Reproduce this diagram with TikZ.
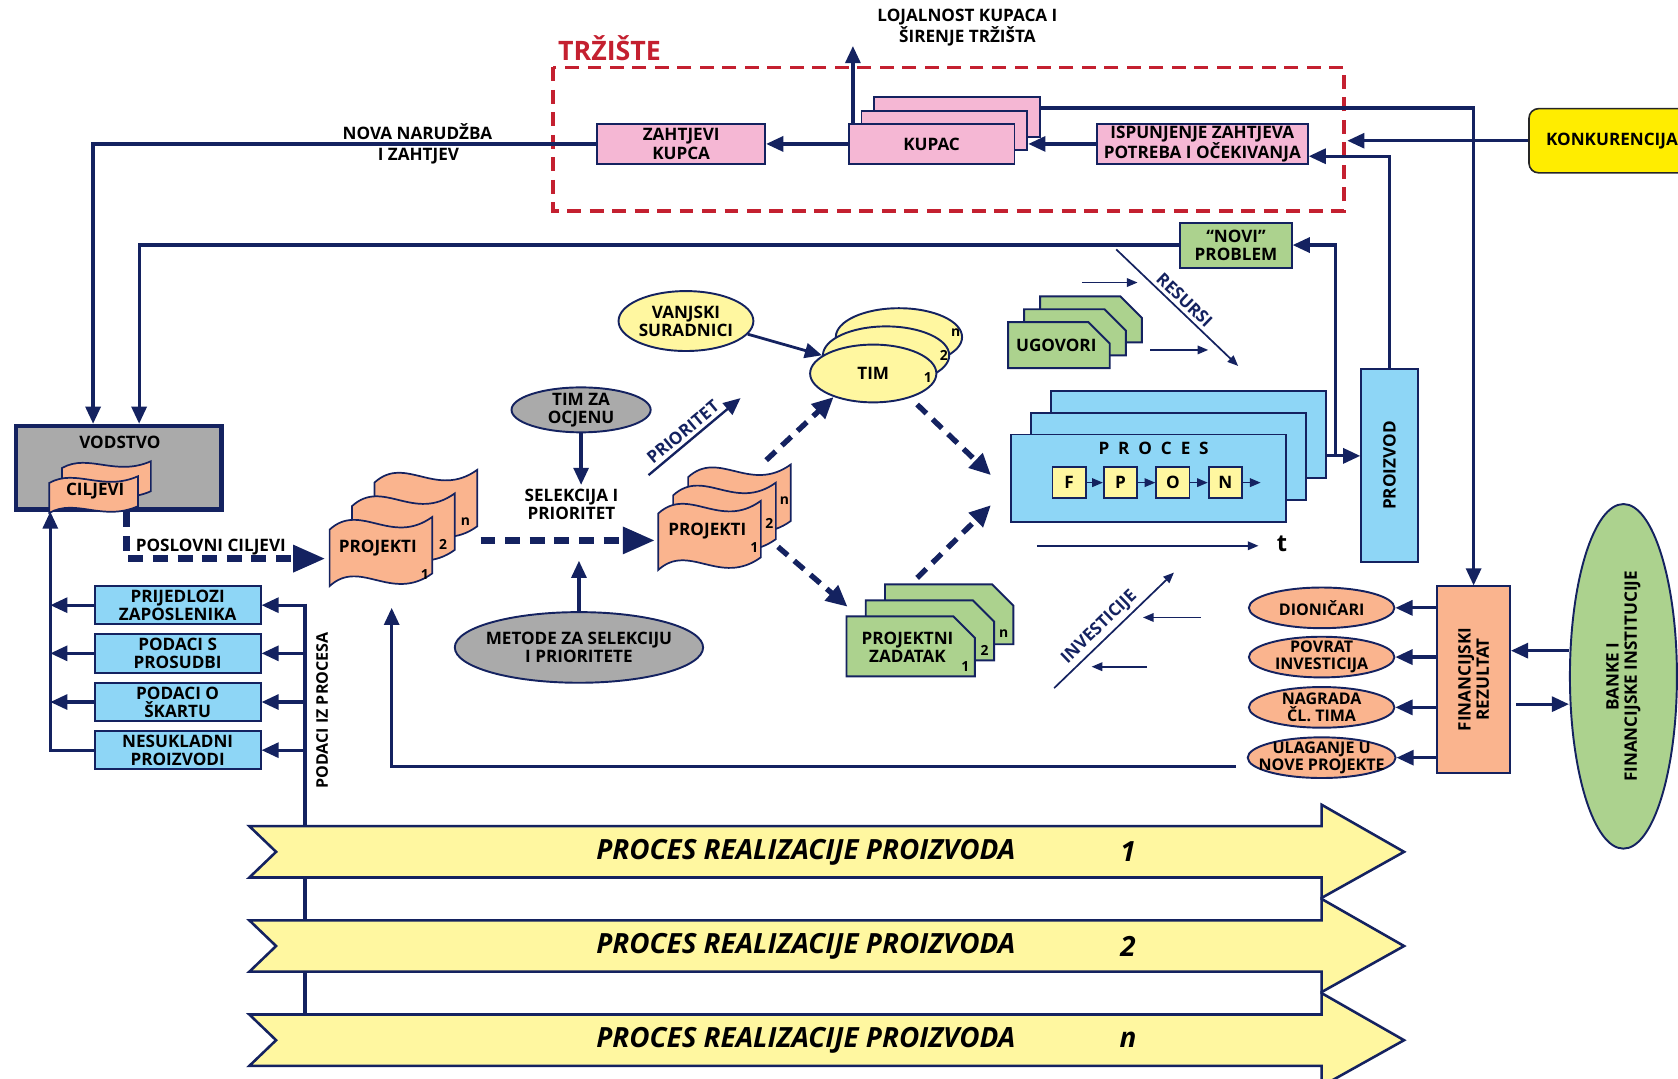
\documentclass[tikz,border=0pt]{standalone}
\usepackage{fontspec}
\setmainfont{Open Sans}
\usetikzlibrary{arrows.meta,shapes.geometric,positioning}

\definecolor{navy}{RGB}{20,34,96}
\definecolor{rose}{RGB}{245,183,212}
\definecolor{sky}{RGB}{142,214,246}
\definecolor{leaf}{RGB}{172,210,142}
\definecolor{lemon}{RGB}{255,247,160}
\definecolor{gold}{RGB}{255,237,0}
\definecolor{peach}{RGB}{250,180,142}
\definecolor{stone}{RGB}{170,170,170}
\definecolor{brick}{RGB}{196,32,48}

\newcommand{\wavesheet}[4]{%
  \filldraw[sheet] ({#1},{#2+0.18*#4})
    .. controls ({#1+0.3*#3},{#2-0.22*#4}) and ({#1+0.6*#3},{#2+0.42*#4}) .. ({#1+#3},{#2})
    -- ({#1+#3},{#2+0.8*#4})
    .. controls ({#1+0.6*#3},{#2+1.22*#4}) and ({#1+0.3*#3},{#2+0.58*#4}) .. ({#1},{#2+0.98*#4}) -- cycle;}
\newcommand{\cutsheet}[4]{%
  \filldraw[leafsheet] ({#1},{#2}) -- ({#1+#3-20},{#2}) -- ({#1+#3},{#2+20})
    -- ({#1+#3},{#2+#4}) -- ({#1},{#2+#4}) -- cycle;}

\begin{document}
\begin{tikzpicture}[x=1pt, y=-1pt,
  every node/.style={font=\bfseries\fontsize{16}{17}\selectfont},
  smalltxt/.style={font=\bfseries\fontsize{15}{15.5}\selectfont},
  num/.style={font=\bfseries\fontsize{13}{13}\selectfont, inner sep=0pt},
  box/.style={draw=navy, line width=1.8pt, align=center, inner sep=1pt},
  rosebox/.style={box, fill=rose, minimum width=155pt, minimum height=37pt},
  skybox/.style={box, fill=sky},
  oval/.style={ellipse, draw=navy, line width=1.8pt, align=center, inner sep=-10pt},
  sheet/.style={fill=peach, draw=navy, line width=1.6pt},
  leafsheet/.style={fill=leaf, draw=navy, line width=1.8pt},
  conn/.style={navy, line width=3pt},
  arr/.style={conn, -{Triangle[length=16pt,width=14pt]}},
  slim/.style={navy, line width=1.6pt, -{Triangle[length=10pt,width=8pt]}},
  bigdash/.style={navy, line width=6.5pt, dash pattern=on 14pt off 9pt, -{Triangle[length=30pt,width=24pt]}},
  middash/.style={navy, line width=5pt, dash pattern=on 12pt off 8pt, -{Triangle[length=20pt,width=18pt]}},
  bigarrow/.style={fill=lemon, draw=navy, line width=2.4pt},
  realtxt/.style={font=\bfseries\itshape\fontsize{26}{28}\selectfont}]
\useasboundingbox (0,0) rectangle (1568,1008);

% market
\draw[brick, line width=3.5pt, dash pattern=on 13pt off 8pt] (517,63) rectangle (1256,197);
\node[anchor=base west, text=brick, font=\bfseries\fontsize{25}{26}\selectfont] (trziste) at (518,57) {TRŽIŠTE};
\node[align=center] (lojalnost) at (904,26) {LOJALNOST KUPACA I\\ŠIRENJE TRŽIŠTA};
\node[rosebox, minimum width=157pt] (zahtjevi) at (636.5,134.5) {ZAHTJEVI\\KUPCA};
\foreach \k in {2,1}
  \node[rosebox] (kupac\k) at ({870.5+12*\k},{134.5-12.5*\k}) {};
\node[rosebox] (kupac) at (870.5,134.5) {KUPAC};
\node[rosebox, minimum width=197pt] (ispun) at (1123.5,134.5) {ISPUNJENJE ZAHTJEVA\\POTREBA I OČEKIVANJA};
\node[draw=black!85, fill=gold, rounded corners=9pt, line width=1.5pt, anchor=west,
  minimum height=60pt, inner xsep=16pt] (konk) at (1428,131.5) {KONKURENCIJA};
\coordinate (lojalIn) at (797,43);
\coordinate (trzE) at (1259,131.5);
\draw[arr] (kupac.north -| lojalIn) -- (lojalIn);
\draw[arr] (kupac.west) -- (zahtjevi.east);
\draw[arr] (ispun.west) -- (ispun.west -| kupac1.east);
\draw[arr] (konk.west) -- (trzE);

% leadership
\node[box, fill=stone, line width=4pt, minimum width=192pt, minimum height=78pt] (vodstvo) at (111,437) {};
\node (vodstvoT) at (112,413) {VODSTVO};
\wavesheet{58}{431}{83}{35}
\wavesheet{46}{445}{83}{35}
\node (ciljevi) at (89,459) {CILJEVI};
\node (novaT) at (390,123) {NOVA NARUDŽBA};
\node (izahtjev) at (391,146) {I ZAHTJEV};
\node[box, fill=leaf, minimum width=104pt, minimum height=42pt] (novi) at (1155,229) {“NOVI”\\PROBLEM};
\draw[arr] (zahtjevi.west) -| ([xshift=-24pt]vodstvo.north);
\draw[arr] (novi.west) -| ([xshift=19pt]vodstvo.north);

% feedback column
\foreach \n/\y/\txt in {prij/565.5/{PRIJEDLOZI\\ZAPOSLENIKA}, pros/610.5/{PODACI S\\PROSUDBI},
    skart/656/{PODACI O\\ŠKARTU}, nesuk/701/{NESUKLADNI\\PROIZVODI}}
  \node[skybox, minimum width=155pt, minimum height=36pt] (\n) at (166,\y) {\txt};
\coordinate (lx) at (47,600);
\coordinate (px) at (285,564);
\coordinate (pbot) at (285,950);
\node[rotate=90, smalltxt] (podaciT) at (301,664) {PODACI IZ PROCESA};
\draw[conn] (px) -- (pbot);
\foreach \n in {prij,pros,skart} \draw[arr] (\n.west) -- (\n.west -| lx);
\draw[arr] (nesuk.west) -| (vodstvo.south -| lx);
\foreach \n in {prij,pros,skart,nesuk} \draw[arr] (\n.east -| px) -- (\n.east);

% projects
\foreach \k in {2,1,0} {\wavesheet{308+21*\k}{483-22*\k}{96}{66}}
\node (proj1) at (353,512) {PROJEKTI};
\foreach \lab/\x/\y in {1/397/537,2/414/509,n/435/487} \node[num] (pa\lab) at (\x,\y) {\lab};
\coordinate (p1in) at (304,522);
\draw[bigdash] ([xshift=7pt]vodstvo.south) |- (p1in);
\node[anchor=base] (poslovni) at (197,515) {POSLOVNI CILJEVI};
\coordinate (p1out) at (449,505);
\coordinate (p2in) at (612,505);
\draw[bigdash] (p1out) -- (p2in);
\node[align=center] (selekcija) at (534,471) {SELEKCIJA I\\PRIORITET};
\node[oval, fill=stone, minimum width=130pt, minimum height=42pt] (ocjena) at (543,383) {TIM ZA\\OCJENU};
\node[oval, fill=stone, minimum width=232pt, minimum height=66pt] (metode) at (541,605) {METODE ZA SELEKCIJU\\I PRIORITETE};
\coordinate (metIn) at (541,524);
\draw[arr] (ocjena.south) -- (ocjena.south |- selekcija.north);
\draw[arr] (metode.north) -- (metIn);
\coordinate (prA) at (606,444);
\coordinate (prB) at (692,372);
\draw[arr, line width=2.2pt] (prA) -- node[sloped, above, pos=0.45] (prioritet) {PRIORITET} (prB);

\foreach \k in {2,1,0} {\wavesheet{615+14*\k}{468-17*\k}{96}{66}}
\node (proj2) at (661,496) {PROJEKTI};
\foreach \lab/\x/\y in {1/705/512,2/719/489,n/733/468} \node[num] (pb\lab) at (\x,\y) {\lab};

% team
\foreach \k in {2,1}
  \node[oval, fill=lemon, minimum width=118pt, minimum height=54pt] (tim\k) at ({816+12*\k},{349-17*\k}) {};
\node[oval, fill=lemon, minimum width=118pt, minimum height=54pt] (tim) at (816,349) {TIM};
\foreach \lab/\x/\y in {1/867/353,2/882/332,n/893/311} \node[num] (pt\lab) at (\x,\y) {\lab};
\node[oval, fill=lemon, minimum width=126pt, minimum height=56pt] (vanjski) at (641,300) {VANJSKI\\SURADNICI};
\draw[arr, line width=2.6pt] (vanjski.-12) -- (tim1.west);

% tasks
\foreach \k in {2,1,0} {\cutsheet{791+18*\k}{576-15*\k}{120}{56}}
\node[align=center] (zadatak) at (848,605) {PROJEKTNI\\ZADATAK};
\foreach \lab/\x/\y in {1/902/623,2/920/608,n/938/592} \node[num] (pz\lab) at (\x,\y) {\lab};

\coordinate (d1a) at (716,430); \coordinate (d1b) at (779,371);
\coordinate (d2a) at (727,511); \coordinate (d2b) at (792,567);
\coordinate (d3a) at (857,378); \coordinate (d3b) at (926,444);
\coordinate (d4a) at (857,540); \coordinate (d4b) at (926,472);
\foreach \a/\b in {d1a/d1b,d2a/d2b,d3a/d3b,d4a/d4b} \draw[middash] (\a) -- (\b);

% contracts and resources
\foreach \k in {2,1,0} {\cutsheet{942+15*\k}{301-12*\k}{95}{43}}
\node (ugovori) at (987,323) {UGOVORI};
\coordinate (reA) at (1043,233);
\coordinate (reB) at (1157,342);
\draw[slim] (reA) -- node[sloped, above] (resursi) {RESURSI} (reB);
\coordinate (ugA) at (1011,264); \coordinate (ugB) at (1063,264);
\coordinate (ugC) at (1075,327); \coordinate (ugD) at (1129,327);
\draw[slim] (ugA) -- (ugB);
\draw[slim] (ugC) -- (ugD);

% process
\foreach \k in {2,1}
  \node[skybox, minimum width=257pt, minimum height=82pt] (proc\k) at ({1073.5+18.5*\k},{447-20.5*\k}) {};
\node[skybox, minimum width=257pt, minimum height=82pt] (proc) at (1073.5,447) {};
\node (procT) at (1078,419) {P~~R~~O~~C~~E~~S};
\foreach \l/\x in {F/999,P/1047,O/1096,N/1145}
  \node[box, fill=lemon, minimum width=31pt, minimum height=29pt] (f\l) at (\x,451) {\l};
\coordinate (fEnd) at (1178,451);
\foreach \a/\b in {fF/fP,fP/fO,fO/fN,fN/fEnd} \draw[slim] (\a) -- (\b);
\coordinate (tA) at (969,510);
\coordinate (tB) at (1176,510);
\draw[slim] (tA) -- (tB);
\node[font=\bfseries\fontsize{22}{22}\selectfont] (tlab) at (1198,508) {t};

% product
\node[skybox, minimum width=53pt, minimum height=180pt] (proizvod) at (1298.5,435) {};
\node[rotate=90] (proizvodT) at (proizvod.center) {PROIZVOD};
\coordinate (pj) at (1248,426);
\draw[conn] (proc2.east |- pj) -- (pj);
\draw[arr] (pj) -- (pj -| proizvod.west);
\draw[arr] (pj) |- (novi.east);
\draw[arr] (proizvod.north) |- ([yshift=-11.5pt]ispun.east);

% finance
\node[box, fill=peach, minimum width=68pt, minimum height=174pt] (finrez) at (1377,635) {};
\node[rotate=90, align=center] (finrezT) at (finrez.center) {FINANCIJSKI\\REZULTAT};
\draw[arr] ([yshift=8.5pt]kupac2.east) -| (finrez.north);
\foreach \n/\y/\txt in {dion/568/{DIONIČARI}, povrat/614/{POVRAT\\INVESTICIJA},
    nagrada/661/{NAGRADA\\ČL. TIMA}, ulaganje/708/{ULAGANJE U\\NOVE PROJEKTE}}
  \node[oval, smalltxt, fill=peach, minimum width=136pt, minimum height=38pt] (\n) at (1235,\y) {\txt};
\foreach \n in {dion,povrat,nagrada,ulaganje} \draw[arr] (finrez.west |- \n.east) -- (\n.east);
\coordinate (p1up) at (366,568);
\draw[arr] ([shift={(-10pt,-8pt)}]ulaganje.west) -| (p1up);
\node[oval, fill=leaf, minimum width=100pt, minimum height=322pt] (banke) at (1517,632) {};
\node[rotate=90, align=center] (bankeT) at (banke.center) {BANKE I\\FINANCIJSKE INSTITUCIJE};
\draw[arr] ([yshift=24pt]banke.west) -- ([yshift=24pt]banke.west -| finrez.east);
\draw[arr] ([shift={(5pt,-23pt)}]finrez.east) -- ([yshift=-23pt]finrez.east -| banke.west);
\coordinate (inA) at (985,643);
\coordinate (inB) at (1097,535);
\draw[slim] (inA) -- node[sloped, above, pos=0.45] (invest) {INVESTICIJE} (inB);
\coordinate (iv1a) at (1122,577); \coordinate (iv1b) at (1068,577);
\coordinate (iv2a) at (1072,623); \coordinate (iv2b) at (1020,623);
\draw[slim] (iv1a) -- (iv1b);
\draw[slim] (iv2a) -- (iv2b);

% realisation
\foreach \y/\k in {796/1,884/2,972/n} {
  \draw[bigarrow] (233,{\y-24}) -- (1235,{\y-24}) -- (1235,{\y-44}) -- (1312,\y)
    -- (1235,{\y+43}) -- (1235,{\y+24}) -- (233,{\y+24}) -- (258,\y) -- cycle;
  \node[realtxt] (real\k) at (753,\y) {PROCES REALIZACIJE PROIZVODA};
  \node[realtxt] (realno\k) at (1054,\y) {\k};
}
\end{tikzpicture}
\end{document}
